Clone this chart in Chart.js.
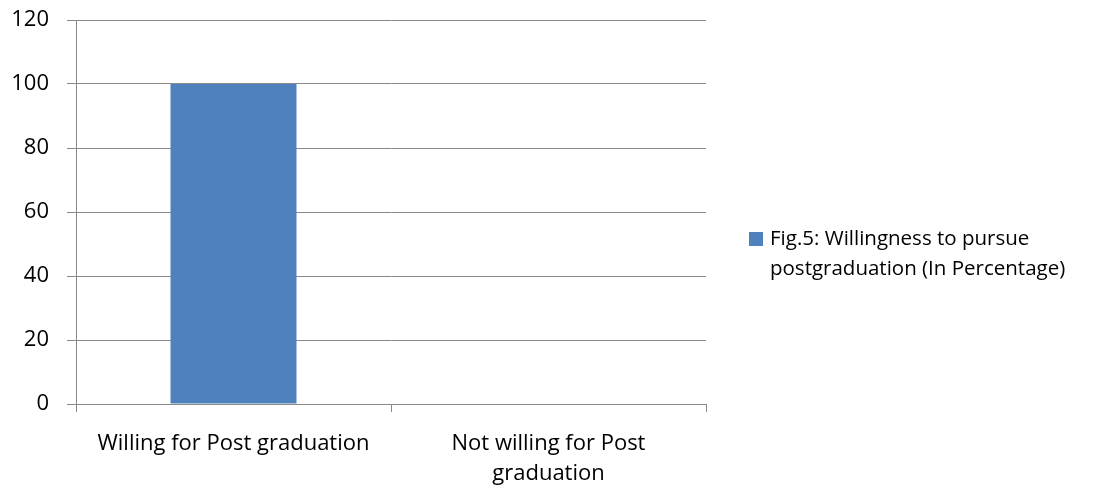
<!DOCTYPE html>
<html>
<head>
<meta charset="utf-8">
<script src="https://cdn.jsdelivr.net/npm/chart.js@4"></script>
<style>
  html, body { margin: 0; padding: 0; background: #ffffff; }
  #wrap { width: 1112px; height: 492px; }
</style>
</head>
<body>
<div id="wrap"><canvas id="chart" width="1112" height="492"></canvas></div>
<script>
const categories = ['Willing for Post graduation', ['Not willing for Post', 'graduation']];
const values = [100, 0];
const seriesLabel = ['Fig.5: Willingness to pursue', 'postgraduation (In Percentage)'];
const yTicks = [0, 20, 40, 60, 80, 100, 120];

const FONT = "'Open Sans', sans-serif";
const barColor = '#4F81BD';
const lineColor = '#898989';

// legend drawn by hand so the label can wrap on two lines
const sideLegend = {
    id: 'sideLegend',
    afterDraw(chart) {
        const ctx = chart.ctx;
        const x = 749, y = 239;
        ctx.save();
        ctx.fillStyle = barColor;
        ctx.fillRect(x, y - 7, 14, 14);
        ctx.fillStyle = '#000000';
        ctx.font = '20.5px ' + FONT;
        ctx.textBaseline = 'middle';
        ctx.fillText(seriesLabel[0], x + 21, y);
        ctx.fillText(seriesLabel[1], x + 21, y + 30);
        ctx.restore();
    }
};

new Chart(document.getElementById('chart').getContext('2d'), {
    type: 'bar',
    data: {
        labels: categories,
        datasets: [{
            label: seriesLabel.join(' '),
            data: values,
            backgroundColor: barColor,
            categoryPercentage: 1,
            barPercentage: 0.4
        }]
    },
    options: {
        responsive: false,
        animation: false,
        layout: { padding: { top: 20, right: 406, left: 0, bottom: 0 } },
        plugins: {
            legend: { display: false },
            tooltip: { enabled: false }
        },
        scales: {
            x: {
                grid: {
                    offset: true,
                    drawOnChartArea: false,
                    tickLength: 8,
                    color: lineColor
                },
                border: { color: lineColor },
                ticks: {
                    color: '#000000',
                    font: { family: FONT, size: 22, lineHeight: 1.36 },
                    padding: 17,
                    maxRotation: 0
                },
                afterFit(scale) {
                    scale.height = 88;
                    scale.paddingLeft = 0;
                    scale.paddingRight = 0;
                }
            },
            y: {
                min: 0,
                max: 120,
                afterBuildTicks(scale) { scale.ticks = yTicks.map(v => ({ value: v })); },
                grid: { color: lineColor, tickLength: 9 },
                border: { color: lineColor },
                ticks: {
                    color: '#000000',
                    font: { family: FONT, size: 22 },
                    padding: 18
                },
                afterFit(scale) {
                    scale.width = 76;
                    scale.paddingTop = 0;
                    scale.paddingBottom = 0;
                }
            }
        }
    },
    plugins: [sideLegend]
});
</script>
</body>
</html>
